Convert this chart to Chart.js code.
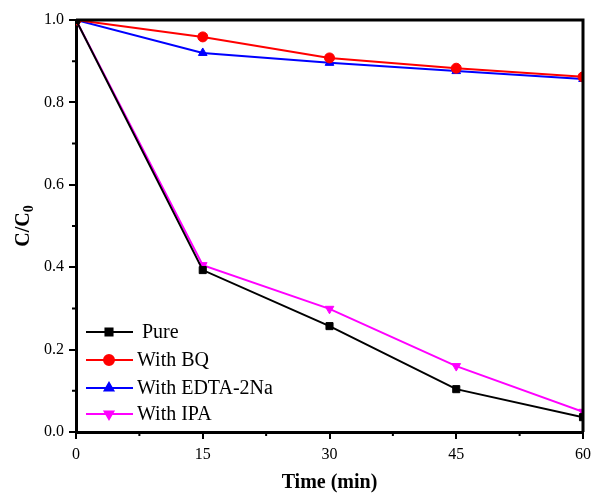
<!DOCTYPE html>
<html>
<head>
<meta charset="utf-8">
<script src="https://cdn.jsdelivr.net/npm/chart.js@4/dist/chart.umd.min.js"></script>
<style>
  html, body { margin: 0; padding: 0; background: #fff; }
  #wrap { width: 591px; height: 495px; }
</style>
</head>
<body>
<div id="wrap"><canvas id="chart"></canvas></div>
<script>
// sampling times (min)
const times = [0, 15, 30, 45, 60];
const xTicks = [0, 15, 30, 45, 60];
const yTicks = [0.0, 0.2, 0.4, 0.6, 0.8, 1.0];

// C/C0 for each scavenger run
const pure = [1.0, 0.393, 0.257, 0.104, 0.036];
const withBQ = [1.0, 0.959, 0.908, 0.883, 0.862];
const withEDTA = [1.0, 0.920, 0.896, 0.876, 0.857];
const withIPA = [1.0, 0.405, 0.299, 0.160, 0.049];

const labels = [' Pure', 'With BQ', 'With EDTA-2Na', 'With IPA'];

const FONT = "'Liberation Serif', 'Times New Roman', serif";

function series(label, values, color, style, rotation) {
  return {
    label: label,
    data: values.map((v, i) => ({ x: times[i], y: v })),
    borderColor: color,
    backgroundColor: color,
    borderWidth: 2,
    pointStyle: style,
    pointRotation: rotation || 0,
    pointRadius: 5,
    pointBorderWidth: 1,
    tension: 0
  };
}

// frame, minor ticks, legend and the y title with its subscript
const extras = {
  id: 'extras',
  afterDraw(chart) {
    const ctx = chart.ctx;
    const a = chart.chartArea;
    const xs = chart.scales.x, ys = chart.scales.y;
    ctx.save();
    ctx.strokeStyle = '#000';

    ctx.lineWidth = 3;
    ctx.beginPath();
    ctx.moveTo(a.left, a.top);
    ctx.lineTo(a.right, a.top);
    ctx.lineTo(a.right, a.bottom);
    ctx.stroke();

    ctx.lineWidth = 2;
    ctx.beginPath();
    for (let v = 7.5; v < 60; v += 15) {
      const px = xs.getPixelForValue(v);
      ctx.moveTo(px, a.bottom);
      ctx.lineTo(px, a.bottom + 4);
    }
    for (let v = 0.1; v < 1; v += 0.2) {
      const py = ys.getPixelForValue(v);
      ctx.moveTo(a.left, py);
      ctx.lineTo(a.left - 4, py);
    }
    ctx.stroke();

    // legend, lower left inside the plot
    const rows = [332, 360, 388, 414];
    chart.data.datasets.forEach((ds, i) => {
      const y = rows[i];
      ctx.strokeStyle = ds.borderColor;
      ctx.lineWidth = 2;
      ctx.beginPath();
      ctx.moveTo(86, y);
      ctx.lineTo(133, y);
      ctx.stroke();
      ctx.fillStyle = ds.backgroundColor;
      Chart.helpers.drawPoint(ctx, {
        pointStyle: ds.pointStyle,
        rotation: ds.pointRotation,
        radius: 5,
        borderWidth: 1
      }, 109, y);
      ctx.fillStyle = '#000';
      ctx.font = '20px ' + FONT;
      ctx.textBaseline = 'middle';
      ctx.textAlign = 'left';
      ctx.fillText(ds.label, 137, y + 1);
    });

    // y axis title: C/C0
    ctx.translate(24, (a.top + a.bottom) / 2);
    ctx.rotate(-Math.PI / 2);
    ctx.fillStyle = '#000';
    ctx.textBaseline = 'middle';
    ctx.textAlign = 'left';
    ctx.font = 'bold 20px ' + FONT;
    const main = 'C/C';
    const w = ctx.measureText(main).width;
    ctx.font = 'bold 14px ' + FONT;
    const sw = ctx.measureText('0').width;
    const x0 = -(w + sw) / 2;
    ctx.font = 'bold 20px ' + FONT;
    ctx.fillText(main, x0, 0);
    ctx.font = 'bold 14px ' + FONT;
    ctx.fillText('0', x0 + w, 5);
    ctx.restore();
  }
};

new Chart(document.getElementById('chart'), {
  type: 'line',
  data: {
    datasets: [
      series(labels[0], pure, '#000000', 'rect'),
      series(labels[1], withBQ, '#ff0000', 'circle'),
      series(labels[2], withEDTA, '#0000ff', 'triangle'),
      series(labels[3], withIPA, '#ff00ff', 'triangle', 180)
    ]
  },
  options: {
    responsive: true,
    maintainAspectRatio: false,
    animation: false,
    layout: { padding: { left: 0, top: 20, right: 1, bottom: 0 } },
    plugins: { legend: { display: false }, tooltip: { enabled: false } },
    scales: {
      x: {
        type: 'linear',
        min: 0,
        max: 60,
        afterBuildTicks: s => { s.ticks = xTicks.map(v => ({ value: v })); },
        afterFit: s => { s.height = 63; s.paddingRight = 8; },
        grid: { drawOnChartArea: false, drawTicks: true, tickLength: 7, color: '#000', lineWidth: 2 },
        border: { display: true, color: '#000', width: 3 },
        ticks: { color: '#000', padding: 6, maxRotation: 0, font: { family: FONT, size: 16 } },
        title: {
          display: true,
          text: 'Time (min)',
          color: '#000',
          padding: { top: 0, bottom: 0 },
          font: { family: FONT, size: 20, weight: 'bold' }
        }
      },
      y: {
        min: 0,
        max: 1.0,
        afterBuildTicks: s => { s.ticks = yTicks.map(v => ({ value: v })); },
        afterFit: s => { s.width = 76; },
        grid: { drawOnChartArea: false, drawTicks: true, tickLength: 7, color: '#000', lineWidth: 2 },
        border: { display: true, color: '#000', width: 3 },
        ticks: { color: '#000', padding: 5, callback: v => v.toFixed(1), font: { family: FONT, size: 16 } }
      }
    }
  },
  plugins: [extras]
});
</script>
</body>
</html>
